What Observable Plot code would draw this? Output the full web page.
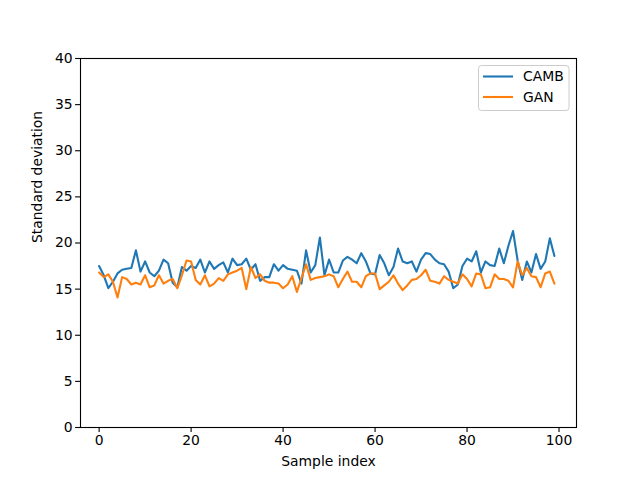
<!DOCTYPE html>
<html>
<head>
<meta charset="utf-8">
<script src="https://cdn.jsdelivr.net/npm/d3@7"></script>
<script src="https://cdn.jsdelivr.net/npm/@observablehq/plot@0.6"></script>
<style>
  body { margin: 0; background: #fff; }
  #chart { width: 640px; height: 480px; }
</style>
</head>
<body>
<div id="chart"></div>
<script>
const camb = [17.5,16.5,15.1,15.8,16.7,17.1,17.2,17.3,19.2,16.9,
  18.0,16.8,16.4,17.0,18.2,17.8,15.7,15.2,17.4,17.0,
  17.5,17.3,18.2,16.8,18.0,17.2,17.6,17.9,16.8,18.3,
  17.6,17.7,18.3,17.1,17.7,15.9,16.3,16.3,17.7,17.0,
  17.6,17.2,17.1,17.0,15.6,19.2,16.8,17.6,20.6,16.5,
  18.2,16.8,16.8,18.1,18.5,18.2,17.8,18.9,18.0,16.7,
  16.6,18.7,17.8,16.5,17.4,19.4,18.0,17.8,18.0,16.9,
  18.2,18.9,18.8,18.2,17.8,17.7,16.9,15.1,15.5,17.5,
  18.3,18.0,19.1,16.8,18.0,17.6,17.5,19.4,17.8,19.7,
  21.3,18.1,16.0,18.0,16.8,18.8,17.2,18.0,20.5,18.6];
const gan = [16.8,16.3,16.6,15.8,14.1,16.3,16.1,15.5,15.7,15.5,
  16.5,15.2,15.4,16.5,15.6,15.9,16.1,15.1,16.5,18.1,
  18.0,16.0,15.5,16.5,15.3,15.6,16.2,15.9,16.6,16.8,
  17.0,17.3,15.0,17.4,16.2,16.6,15.9,15.7,15.7,15.6,
  15.1,15.5,16.4,14.7,16.2,17.7,16.0,16.2,16.3,16.4,
  16.6,16.4,15.2,16.1,16.9,15.8,15.8,15.2,16.4,16.7,
  16.7,15.0,15.4,15.8,16.5,15.6,14.9,15.4,16.0,16.1,
  16.5,17.1,15.9,15.8,15.6,16.4,16.0,15.8,15.6,16.6,
  16.1,15.3,16.7,16.6,15.1,15.2,16.6,16.1,16.1,15.9,
  15.2,18.0,16.5,17.3,16.4,16.3,15.2,16.7,16.9,15.6];
const seriesNames = ["CAMB", "GAN"];
const seriesColors = ["#1f77b4", "#ff7f0e"];
const xTicks = [0, 20, 40, 60, 80, 100];
const yTicks = [0, 5, 10, 15, 20, 25, 30, 35, 40];

const rows = [];
camb.forEach((v, i) => rows.push({i, v, s: "CAMB"}));
gan.forEach((v, i) => rows.push({i, v, s: "GAN"}));

const font = "DejaVu Sans, sans-serif";
const plot = Plot.plot({
  width: 640,
  height: 480,
  marginLeft: 80,
  marginRight: 64,
  marginTop: 58,
  marginBottom: 53,
  style: {fontFamily: font, fontSize: "13.9px", background: "#fff", color: "#000"},
  x: {domain: [-4.05, 103.8], ticks: xTicks, tickSize: 4.9, tickPadding: 3, label: null},
  y: {domain: [0, 40], ticks: yTicks, tickSize: 4.9, tickPadding: 3, label: null},
  color: {domain: seriesNames, range: seriesColors},
  marks: [
    Plot.line(rows, {x: "i", y: "v", z: "s", stroke: "s", strokeWidth: 2.1}),
    Plot.frame({stroke: "#000", strokeWidth: 1.1}),
    Plot.axisX({ticks: xTicks, tickSize: 4.9, tickPadding: 3, label: null, strokeWidth: 1.1}),
    Plot.axisY({ticks: yTicks, tickSize: 4.9, tickPadding: 3, label: null, strokeWidth: 1.1}),
    Plot.text(["Sample index"], {frameAnchor: "bottom", dy: 38, fontSize: 13.9}),
    Plot.text(["Standard deviation"], {frameAnchor: "left", dx: -43, rotate: -90, fontSize: 13.9})
  ]
});
document.getElementById("chart").appendChild(plot);

// legend (upper right, matplotlib style)
const svg = d3.select(plot);
const lg = svg.append("g").attr("font-family", font).attr("font-size", "13.9px")
  .attr("text-anchor", "start");
lg.append("rect").attr("x", 478.5).attr("y", 65.5).attr("width", 90.5).attr("height", 45)
  .attr("rx", 3).attr("fill", "#fff").attr("fill-opacity", 0.8)
  .attr("stroke", "#cccccc").attr("stroke-width", 1);
seriesNames.forEach((name, k) => {
  const cy = 76.5 + k * 20.5;
  lg.append("line").attr("x1", 483).attr("x2", 513).attr("y1", cy).attr("y2", cy)
    .attr("stroke", seriesColors[k]).attr("stroke-width", 2.1);
  lg.append("text").attr("x", 523).attr("y", cy).attr("dy", "0.35em")
    .attr("text-anchor", "start").attr("fill", "#000").text(name);
});
</script>
</body>
</html>
